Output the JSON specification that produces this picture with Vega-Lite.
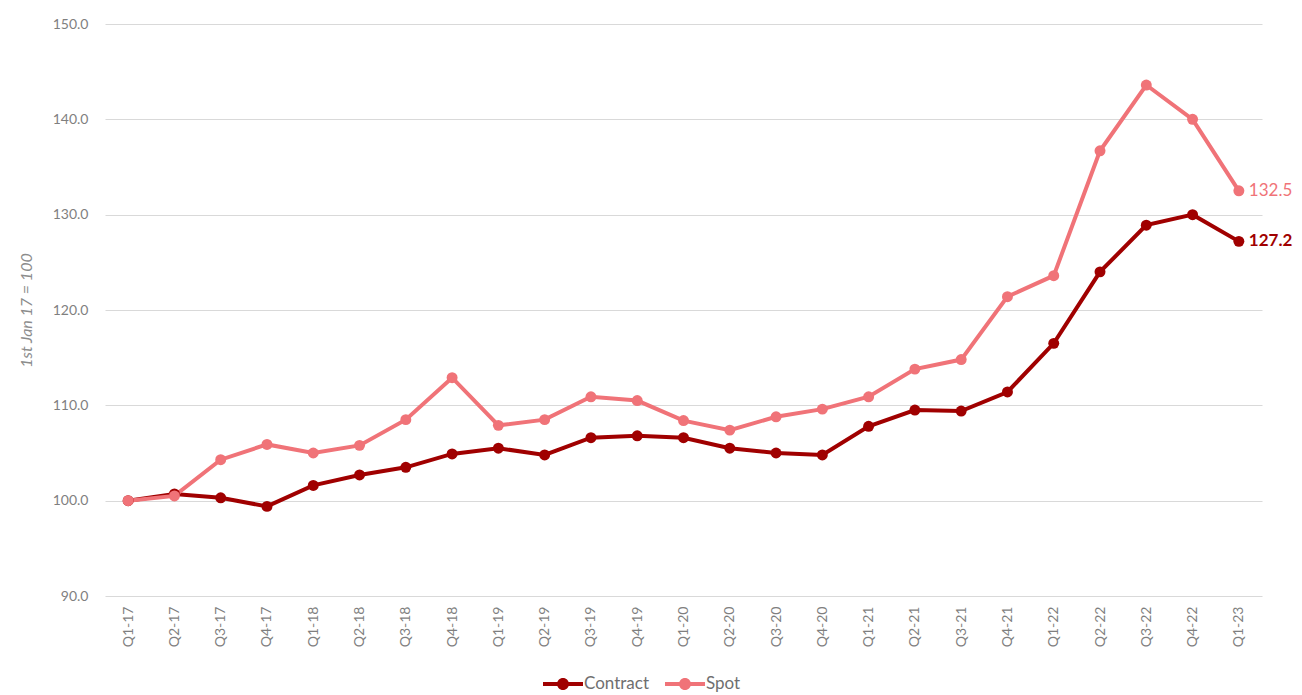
{
  "$schema": "https://vega.github.io/schema/vega-lite/v6.json",
  "autosize": {"type": "none"},
  "padding": {"left": 105, "top": 24, "right": 40, "bottom": 99},
  "width": 1157,
  "height": 572,
  "background": "white",
  "config": {
    "font": "Lato",
    "view": {"stroke": null},
    "axis": {"labelColor": "#7f7f7f", "titleColor": "#8c8c8c", "labelFont": "Lato", "titleFont": "Lato"}
  },
  "data": {
    "values": [
      {"q": "Q1-17", "series": "Contract", "value": 100.0},
      {"q": "Q2-17", "series": "Contract", "value": 100.7},
      {"q": "Q3-17", "series": "Contract", "value": 100.3},
      {"q": "Q4-17", "series": "Contract", "value": 99.4},
      {"q": "Q1-18", "series": "Contract", "value": 101.6},
      {"q": "Q2-18", "series": "Contract", "value": 102.7},
      {"q": "Q3-18", "series": "Contract", "value": 103.5},
      {"q": "Q4-18", "series": "Contract", "value": 104.9},
      {"q": "Q1-19", "series": "Contract", "value": 105.5},
      {"q": "Q2-19", "series": "Contract", "value": 104.8},
      {"q": "Q3-19", "series": "Contract", "value": 106.6},
      {"q": "Q4-19", "series": "Contract", "value": 106.8},
      {"q": "Q1-20", "series": "Contract", "value": 106.6},
      {"q": "Q2-20", "series": "Contract", "value": 105.5},
      {"q": "Q3-20", "series": "Contract", "value": 105.0},
      {"q": "Q4-20", "series": "Contract", "value": 104.8},
      {"q": "Q1-21", "series": "Contract", "value": 107.8},
      {"q": "Q2-21", "series": "Contract", "value": 109.5},
      {"q": "Q3-21", "series": "Contract", "value": 109.4},
      {"q": "Q4-21", "series": "Contract", "value": 111.4},
      {"q": "Q1-22", "series": "Contract", "value": 116.5},
      {"q": "Q2-22", "series": "Contract", "value": 124.0},
      {"q": "Q3-22", "series": "Contract", "value": 128.9},
      {"q": "Q4-22", "series": "Contract", "value": 130.0},
      {"q": "Q1-23", "series": "Contract", "value": 127.2},
      {"q": "Q1-17", "series": "Spot", "value": 100.0},
      {"q": "Q2-17", "series": "Spot", "value": 100.5},
      {"q": "Q3-17", "series": "Spot", "value": 104.3},
      {"q": "Q4-17", "series": "Spot", "value": 105.9},
      {"q": "Q1-18", "series": "Spot", "value": 105.0},
      {"q": "Q2-18", "series": "Spot", "value": 105.8},
      {"q": "Q3-18", "series": "Spot", "value": 108.5},
      {"q": "Q4-18", "series": "Spot", "value": 112.9},
      {"q": "Q1-19", "series": "Spot", "value": 107.9},
      {"q": "Q2-19", "series": "Spot", "value": 108.5},
      {"q": "Q3-19", "series": "Spot", "value": 110.9},
      {"q": "Q4-19", "series": "Spot", "value": 110.5},
      {"q": "Q1-20", "series": "Spot", "value": 108.4},
      {"q": "Q2-20", "series": "Spot", "value": 107.4},
      {"q": "Q3-20", "series": "Spot", "value": 108.8},
      {"q": "Q4-20", "series": "Spot", "value": 109.6},
      {"q": "Q1-21", "series": "Spot", "value": 110.9},
      {"q": "Q2-21", "series": "Spot", "value": 113.8},
      {"q": "Q3-21", "series": "Spot", "value": 114.8},
      {"q": "Q4-21", "series": "Spot", "value": 121.4},
      {"q": "Q1-22", "series": "Spot", "value": 123.6},
      {"q": "Q2-22", "series": "Spot", "value": 136.7},
      {"q": "Q3-22", "series": "Spot", "value": 143.6},
      {"q": "Q4-22", "series": "Spot", "value": 140.0},
      {"q": "Q1-23", "series": "Spot", "value": 132.5}
    ]
  },
  "encoding": {
    "x": {
      "field": "q", "type": "ordinal", "sort": null,
      "scale": {"type": "point", "padding": 0.5},
      "axis": {"title": null, "labelAngle": -90, "labelFontSize": 14, "ticks": false, "domain": false, "labelPadding": 10, "grid": false}
    },
    "y": {
      "field": "value", "type": "quantitative",
      "scale": {"domain": [90, 150], "nice": false, "zero": false},
      "axis": {
        "values": [90, 100, 110, 120, 130, 140, 150], "format": ".1f",
        "title": "1st Jan 17 = 100", "titleFontStyle": "italic", "titleFontWeight": "normal", "titleFontSize": 16,
        "labelFontSize": 14, "ticks": false, "domain": false, "labelPadding": 17, "titlePadding": 18,
        "gridColor": "#d9d9d9", "gridWidth": 1
      }
    },
    "color": {
      "field": "series", "type": "nominal",
      "scale": {"domain": ["Contract", "Spot"], "range": ["#a00000", "#f07378"]}
    }
  },
  "layer": [
    {
      "mark": {"type": "line", "strokeWidth": 4, "point": {"filled": true, "size": 120}},
      "encoding": {
        "color": {
          "field": "series", "type": "nominal",
          "scale": {"domain": ["Contract", "Spot"], "range": ["#a00000", "#f07378"]},
          "legend": {
            "title": null, "orient": "none", "direction": "horizontal",
            "legendX": 438, "legendY": 640,
            "symbolType": "M-1,-0.1L1,-0.1L1,0.1L-1,0.1Z M0.3,0A0.3,0.3 0 1,1 -0.3,0A0.3,0.3 0 1,1 0.3,0Z",
            "symbolSize": 1600, "symbolStrokeWidth": 0,
            "labelFont": "Lato", "labelFontSize": 17, "labelColor": "#6f6f6f", "labelOffset": 1, "columnPadding": 15,
            "encode": {"symbols": {"update": {"fill": {"scale": "color", "field": "value"}, "strokeWidth": {"value": 0}}}}
          }
        }
      }
    },
    {
      "transform": [{"filter": "datum.q === 'Q1-23' && datum.series === 'Contract'"}],
      "mark": {"type": "text", "align": "left", "dx": 10, "fontSize": 17, "fontWeight": "bold", "baseline": "middle", "font": "Lato"},
      "encoding": {"text": {"field": "value", "type": "quantitative", "format": ".1f"}}
    },
    {
      "transform": [{"filter": "datum.q === 'Q1-23' && datum.series === 'Spot'"}],
      "mark": {"type": "text", "align": "left", "dx": 10, "fontSize": 17, "baseline": "middle", "font": "Lato"},
      "encoding": {"text": {"field": "value", "type": "quantitative", "format": ".1f"}}
    }
  ]
}
